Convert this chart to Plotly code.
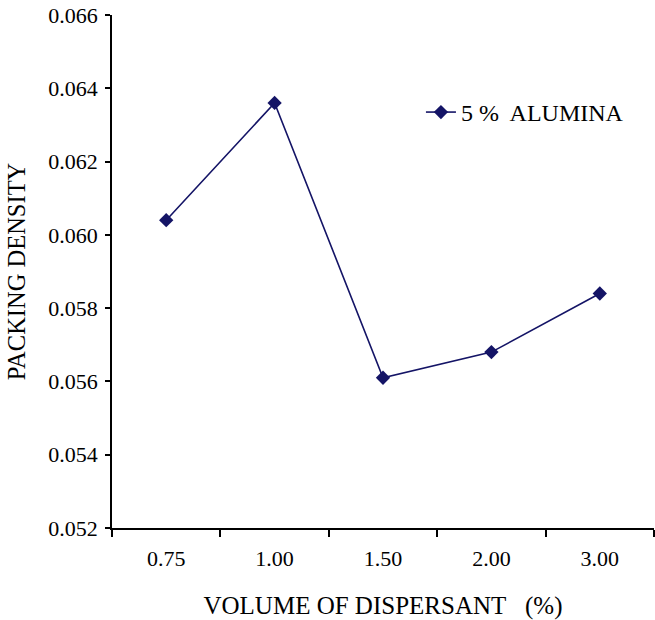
import plotly.graph_objects as go

categories = ["0.75", "1.00", "1.50", "2.00", "3.00"]
packing_density = [0.0604, 0.0636, 0.0561, 0.0568, 0.0584]
y_ticks = [0.052, 0.054, 0.056, 0.058, 0.060, 0.062, 0.064, 0.066]
y_tick_labels = ["0.052", "0.054", "0.056", "0.058", "0.060", "0.062", "0.064", "0.066"]
series_name = "5 %\u00a0 ALUMINA"

navy = "#141466"
font_family = "Liberation Serif, Times New Roman, serif"

fig = go.Figure()
fig.add_trace(go.Scatter(
    x=categories, y=packing_density, mode="lines+markers", name=series_name,
    line=dict(color=navy, width=1.6),
    marker=dict(symbol="diamond", size=11, color=navy),
))

fig.update_layout(
    width=655, height=620,
    margin=dict(l=112, r=1, t=15, b=92),
    paper_bgcolor="white", plot_bgcolor="white",
    font=dict(family=font_family, size=22, color="black"),
    showlegend=True,
    legend=dict(x=0.57, y=0.81, xanchor="left", yanchor="middle",
                bgcolor="rgba(0,0,0,0)", font=dict(size=24)),
    xaxis=dict(
        type="category", showgrid=False, zeroline=False,
        showline=True, linecolor="black", linewidth=1.5,
        ticks="outside", tickson="boundaries", ticklen=7, tickwidth=2, tickcolor="black",
        ticklabelstandoff=10, tickfont=dict(size=22),
        title=dict(text="VOLUME OF DISPERSANT\u00a0\u00a0 (%)", standoff=26, font=dict(size=25)),
        range=[-0.5, 4.5],
    ),
    yaxis=dict(
        range=[0.052, 0.066], tickvals=y_ticks, ticktext=y_tick_labels,
        showgrid=False, zeroline=False,
        showline=True, linecolor="black", linewidth=1.5,
        ticks="outside", ticklen=5, tickwidth=1.5, tickcolor="black",
        ticklabelstandoff=3, tickfont=dict(size=22),
        title=dict(text="PACKING DENSITY", standoff=16, font=dict(size=24.5)),
    ),
)

fig.write_html("out.html")
